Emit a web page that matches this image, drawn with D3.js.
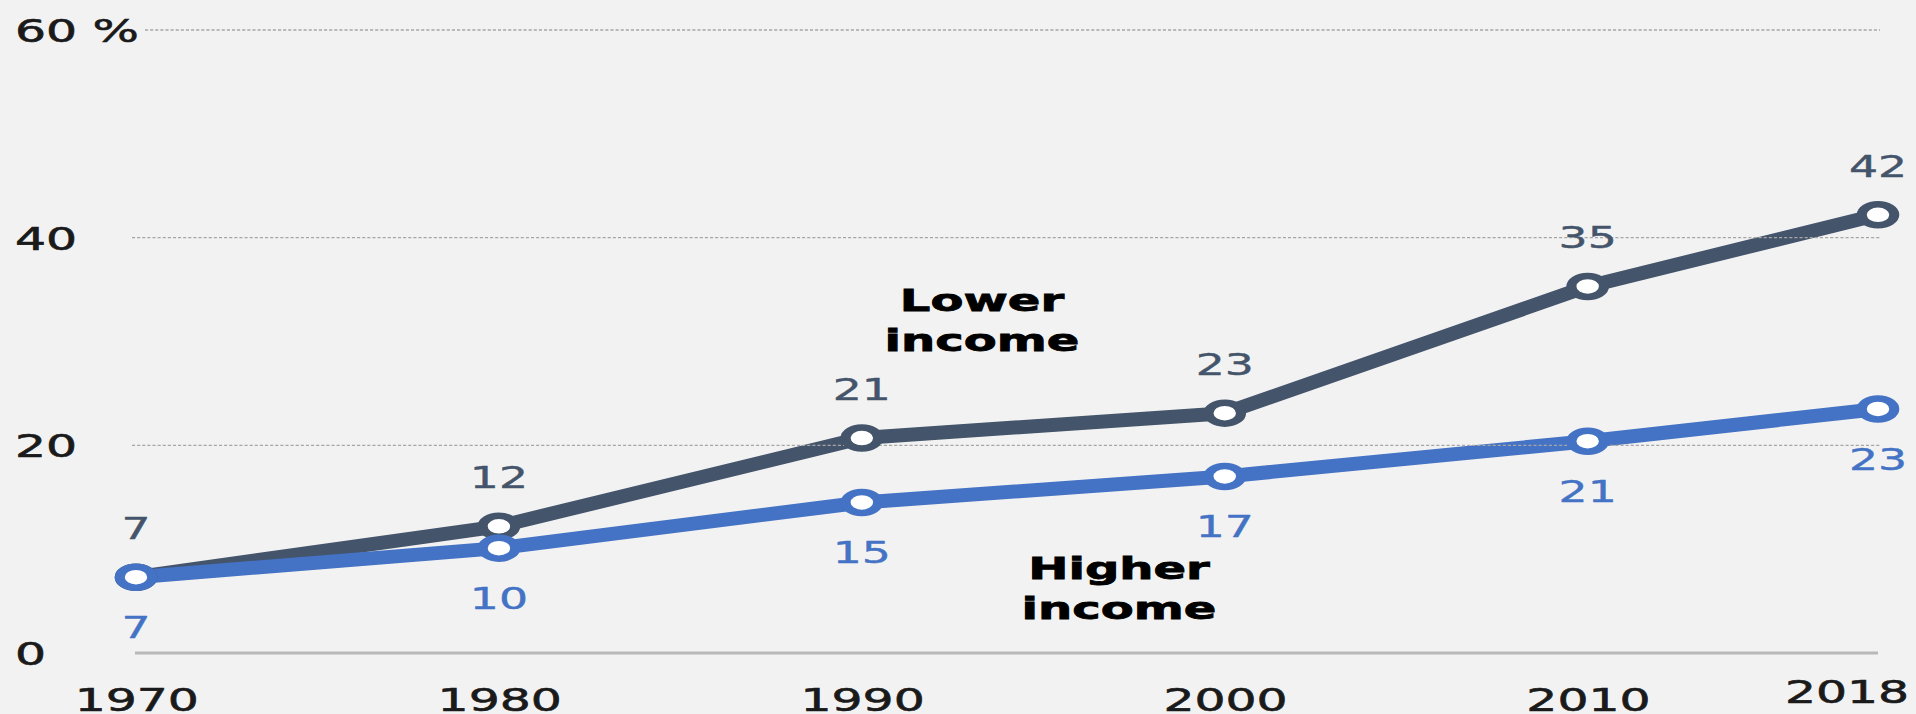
<!DOCTYPE html>
<html>
<head>
<meta charset="utf-8">
<script src="https://cdn.jsdelivr.net/npm/d3@7"></script>
<style>
  html, body { margin: 0; padding: 0; background: #f2f2f2; }
  svg { display: block; }
</style>
</head>
<body>
<script>
// ---- data ----
const years = [1970, 1980, 1990, 2000, 2010, 2018];
const lowerIncome = [7.3, 12.2, 20.7, 23.1, 35.3, 42.2];
const higherIncome = [7.3, 10.1, 14.5, 17.0, 20.4, 23.5];
const lowerLabels = ["7", "12", "21", "23", "35", "42"];
const higherLabels = ["7", "10", "15", "17", "21", "23"];
const yTicks = [0, 20, 40, 60];
const yTickLabels = ["0", "20", "40", "60 %"];
const seriesNames = [["Lower", "income"], ["Higher", "income"]];

// ---- layout ----
const W = 1916, H = 714;
const SX = 1.55; // horizontal stretch of the original picture
const colDark = "#44546a", colBlue = "#4472c4";

const svg = d3.select("body").append("svg").attr("width", W).attr("height", H);
svg.append("rect").attr("width", W).attr("height", H).attr("fill", "#f2f2f2");
const gLines = svg.append("g");
const g = svg.append("g").attr("transform", `scale(${SX},1)`);

const xr = d3.scaleLinear().domain([1970, 2018]).range([136, 1878]);      // real pixels
const x = d3.scaleLinear().domain([1970, 2018]).range([136 / SX, 1878 / SX]); // stretched frame
const y = d3.scaleLinear().domain([0, 60]).range([653, 30]);

const font = "'DejaVu Sans', Verdana, sans-serif";

// gridlines
const gridX0 = 132 / SX, gridX1 = 1880 / SX;
g.selectAll(".grid").data(yTicks.filter(d => d > 0)).join("line")
  .attr("x1", d => d === 60 ? 145 / SX : gridX0)
  .attr("x2", gridX1)
  .attr("y1", d => y(d)).attr("y2", d => y(d))
  .attr("stroke", "#a6a6a6").attr("stroke-width", 1.4)
  .attr("stroke-dasharray", "2,1.3");

// baseline
g.append("line")
  .attr("x1", 135 / SX).attr("x2", 1878 / SX)
  .attr("y1", y(0)).attr("y2", y(0))
  .attr("stroke", "#b8b8b8").attr("stroke-width", 3);

// y axis
const yAxis = d3.axisLeft(y).tickValues(yTicks).tickSize(0)
  .tickFormat((d, i) => yTickLabels[i]);
const yg = g.append("g").call(yAxis);
yg.select(".domain").remove();
yg.selectAll("text")
  .attr("x", 15 / SX).attr("dy", "0.36em")
  .attr("text-anchor", "start")
  .style("font-family", font).style("font-size", "31.5px")
  .attr("fill", "#1a1a1a").attr("stroke", "#1a1a1a").attr("stroke-width", 0.6);

// x axis
const xAxis = d3.axisBottom(x).tickValues(years).tickSize(0).tickFormat(d3.format("d"));
const xg = g.append("g").attr("transform", `translate(0,${y(0)})`).call(xAxis);
xg.select(".domain").remove();
xg.selectAll("text")
  .attr("y", d => d === 2018 ? 50 : 58).attr("dy", 0)
  .attr("x", d => d === 2018 ? -20.5 : 0)
  .style("font-family", font).style("font-size", "31.5px")
  .attr("fill", "#1a1a1a").attr("stroke", "#1a1a1a").attr("stroke-width", 0.6);

// lines (drawn in real pixels so the stroke stays even)
const line = d3.line().x((d, i) => xr(years[i])).y(d => y(d));
const series = [
  { vals: lowerIncome, labels: lowerLabels, color: colDark, off: -38 },
  { vals: higherIncome, labels: higherLabels, color: colBlue, off: 61 }
];
series.forEach(s => {
  gLines.append("path").datum(s.vals).attr("d", line)
    .attr("fill", "none").attr("stroke", s.color).attr("stroke-width", 14)
    .attr("stroke-linejoin", "round");
});
series.forEach(s => {
  g.selectAll(null).data(s.vals).join("circle")
    .attr("cx", (d, i) => x(years[i])).attr("cy", d => y(d))
    .attr("r", 10.5).attr("fill", "#ffffff")
    .attr("stroke", s.color).attr("stroke-width", 6.5);
  g.selectAll(null).data(s.vals).join("text")
    .attr("x", (d, i) => x(years[i])).attr("y", d => y(d) + s.off)
    .attr("text-anchor", "middle")
    .style("font-family", font).style("font-size", "29.5px")
    .attr("fill", s.color).attr("stroke", s.color).attr("stroke-width", 0.4)
    .text((d, i) => s.labels[i]);
});

// series name labels
const nameLabels = [
  { lines: seriesNames[0], cx: 982 / SX, y0: 311 },
  { lines: seriesNames[1], cx: 1119 / SX, y0: 579 }
];
nameLabels.forEach(n => {
  const t = g.append("text").attr("text-anchor", "middle")
    .style("font-family", font).style("font-size", "31px").style("font-weight", "bold")
    .attr("fill", "#000").attr("stroke", "#000").attr("stroke-width", 0.8);
  n.lines.forEach((l, i) => {
    t.append("tspan").attr("x", n.cx).attr("y", n.y0 + i * 40).text(l);
  });
});
</script>
</body>
</html>
